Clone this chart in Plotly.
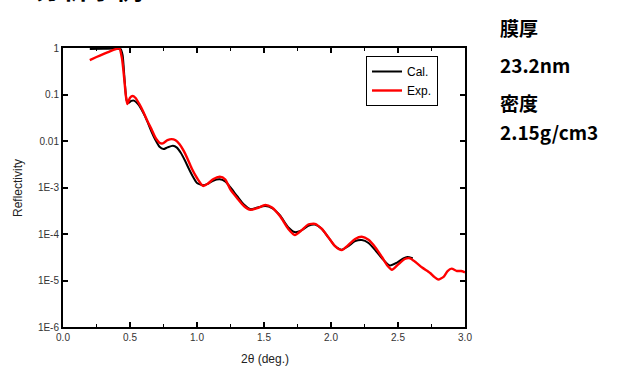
import plotly.graph_objects as go

# Exp. (measured) data
exp_x = [0.20, 0.25, 0.30, 0.35, 0.40, 0.42, 0.44, 0.455, 0.47, 0.48, 0.50, 0.52, 0.54, 0.57,
         0.60, 0.63, 0.66, 0.69, 0.72, 0.745, 0.78, 0.81, 0.84, 0.87, 0.90, 0.93, 0.96, 1.00,
         1.045, 1.08, 1.12, 1.17, 1.21, 1.25, 1.30, 1.35, 1.40, 1.45, 1.51, 1.56, 1.62, 1.68,
         1.73, 1.78, 1.83, 1.88, 1.93, 1.98, 2.03, 2.08, 2.13, 2.18, 2.23, 2.28, 2.33, 2.38,
         2.42, 2.455, 2.50, 2.55, 2.59, 2.63, 2.68, 2.74, 2.77, 2.80, 2.84, 2.87, 2.90, 2.94,
         2.97, 3.00]
exp_r = [0.55, 0.64, 0.74, 0.85, 0.96, 1.0, 0.6, 0.25, 0.09, 0.062, 0.085, 0.093, 0.085, 0.062,
         0.042, 0.027, 0.018, 0.0118, 0.0092, 0.0089, 0.0104, 0.011, 0.0104, 0.0085, 0.0062,
         0.0041, 0.0026, 0.0016,
         0.00108, 0.0012, 0.0015, 0.0017, 0.0015, 0.0009, 0.00059, 0.00040, 0.00033, 0.00036,
         0.00042, 0.00037, 0.00024, 0.00013,
         0.000095, 0.00012, 0.00016, 0.000165, 0.00013, 0.000085, 0.000055, 0.000045, 0.000058,
         0.000078, 0.000087, 0.000075, 0.000052, 0.000032,
         0.000021, 0.000017, 0.000022, 0.000029, 0.00003, 0.000025, 0.000019, 0.0000145,
         0.000012, 0.0000105, 0.000012, 0.000016, 0.000018, 0.000016,
         0.000016, 0.000015]

# Cal. (simulated) data
cal_x = [0.20, 0.30, 0.40, 0.43, 0.445, 0.46, 0.475, 0.49, 0.51, 0.53, 0.56, 0.60, 0.63, 0.66,
         0.69, 0.72, 0.75, 0.78, 0.82, 0.85, 0.88, 0.91, 0.94, 0.97, 1.00, 1.045, 1.08, 1.12,
         1.17, 1.21, 1.25, 1.30, 1.35, 1.40, 1.45, 1.51, 1.56, 1.62, 1.68, 1.73, 1.78, 1.83,
         1.88, 1.93, 1.98, 2.03, 2.08, 2.13, 2.18, 2.23, 2.28, 2.33, 2.38, 2.44, 2.49, 2.54,
         2.57, 2.61]
cal_r = [0.95, 0.96, 0.97, 0.95, 0.7, 0.2, 0.075, 0.066, 0.073, 0.074, 0.062, 0.04, 0.026, 0.016,
         0.0105, 0.0075, 0.0067, 0.0073, 0.0079, 0.0072, 0.0055, 0.0038, 0.0025, 0.0017, 0.00125,
         0.00112, 0.0012, 0.0014,
         0.0015, 0.00135, 0.001, 0.00065, 0.00043, 0.00034, 0.00037, 0.0004, 0.00036, 0.00025,
         0.00014, 0.00011, 0.00012, 0.00015,
         0.00016, 0.00013, 0.000085, 0.000055, 0.000046, 0.000055, 0.00007, 0.000074, 0.000064,
         0.000045, 0.00003, 0.000021, 0.000024, 0.00003,
         0.000032, 0.00003]

x_ticks = [0.0, 0.5, 1.0, 1.5, 2.0, 2.5, 3.0]
x_ticklabels = ["0.0", "0.5", "1.0", "1.5", "2.0", "2.5", "3.0"]
y_ticks = [1, 0.1, 0.01, 1e-3, 1e-4, 1e-5, 1e-6]
y_ticklabels = ["1", "0.1", "0.01", "1E-3", "1E-4", "1E-5", "1E-6"]

side_texts = ["膜厚", "23.2nm", "密度", "2.15g/cm3"]
side_y = [27, 64, 102, 131]
title_text = "分析事例"

W, H = 617, 367
L, R, T, B = 63, 152, 48, 40
pw, ph = W - L - R, H - T - B


def px_to_paper_x(px):
    return (px - L) / pw


def px_to_paper_y(py):
    return 1 - (py - T) / ph


fig = go.Figure()
fig.add_trace(go.Scatter(x=cal_x, y=cal_r, mode="lines", name="Cal.",
                         line=dict(color="black", width=2, shape="spline", smoothing=0.6)))
fig.add_trace(go.Scatter(x=exp_x, y=exp_r, mode="lines", name="Exp.",
                         line=dict(color="#ff0000", width=2.4, shape="spline", smoothing=0.6)))

font = "Arial, Liberation Sans, sans-serif"
fig.update_layout(
    width=W, height=H,
    margin=dict(l=L, r=R, t=T, b=B),
    paper_bgcolor="white", plot_bgcolor="white",
    font=dict(family=font, color="#222"),
    showlegend=True,
    legend=dict(x=px_to_paper_x(366), y=px_to_paper_y(56), xanchor="left", yanchor="top",
                bordercolor="black", borderwidth=1, bgcolor="white",
                font=dict(size=12, color="black", family=font),
                tracegroupgap=0, itemwidth=30),
    xaxis=dict(range=[0, 3], tickvals=x_ticks, ticktext=x_ticklabels,
               showgrid=False, zeroline=False, showline=True, linecolor="black", linewidth=2,
               mirror="ticks", ticks="inside", ticklen=5, tickwidth=1.5, tickcolor="black",
               tickfont=dict(size=10, color="#333"),
               minor=dict(dtick=0.25, tick0=0, ticks="inside", ticklen=3, tickwidth=1.2,
                          tickcolor="black")),
    yaxis=dict(type="log", range=[-6, 0], tickvals=y_ticks, ticktext=y_ticklabels,
               showgrid=False, zeroline=False, showline=True, linecolor="black", linewidth=2,
               mirror="ticks", ticks="inside", ticklen=5, tickwidth=1.5, tickcolor="black",
               tickfont=dict(size=10, color="#333")),
)

annotations = []
annotations.append(dict(text="Reflectivity", xref="paper", yref="paper",
                        x=px_to_paper_x(18), y=px_to_paper_y(188), textangle=-90,
                        showarrow=False, font=dict(size=12, color="#222", family=font),
                        xanchor="center", yanchor="middle"))
annotations.append(dict(text="2θ (deg.)", xref="paper", yref="paper",
                        x=px_to_paper_x(265), y=px_to_paper_y(359),
                        showarrow=False, font=dict(size=12, color="#222", family=font),
                        xanchor="center", yanchor="middle"))
for t, yy in zip(side_texts, side_y):
    annotations.append(dict(text="<b>" + t + "</b>", xref="paper", yref="paper",
                            x=px_to_paper_x(498), y=px_to_paper_y(yy),
                            showarrow=False, xanchor="left", yanchor="middle",
                            font=dict(size=19, color="black", family="Noto Sans CJK JP")))
annotations.append(dict(text="<b>" + title_text + "</b>", xref="paper", yref="paper",
                        x=px_to_paper_x(33), y=px_to_paper_y(-12),
                        showarrow=False, xanchor="left", yanchor="middle",
                        font=dict(size=27, color="black", family="Noto Sans CJK JP")))
fig.update_layout(annotations=annotations)

fig.write_html("out.html", config={"displayModeBar": False},
               post_script="document.body.style.margin='0';document.body.style.overflow='hidden';")
